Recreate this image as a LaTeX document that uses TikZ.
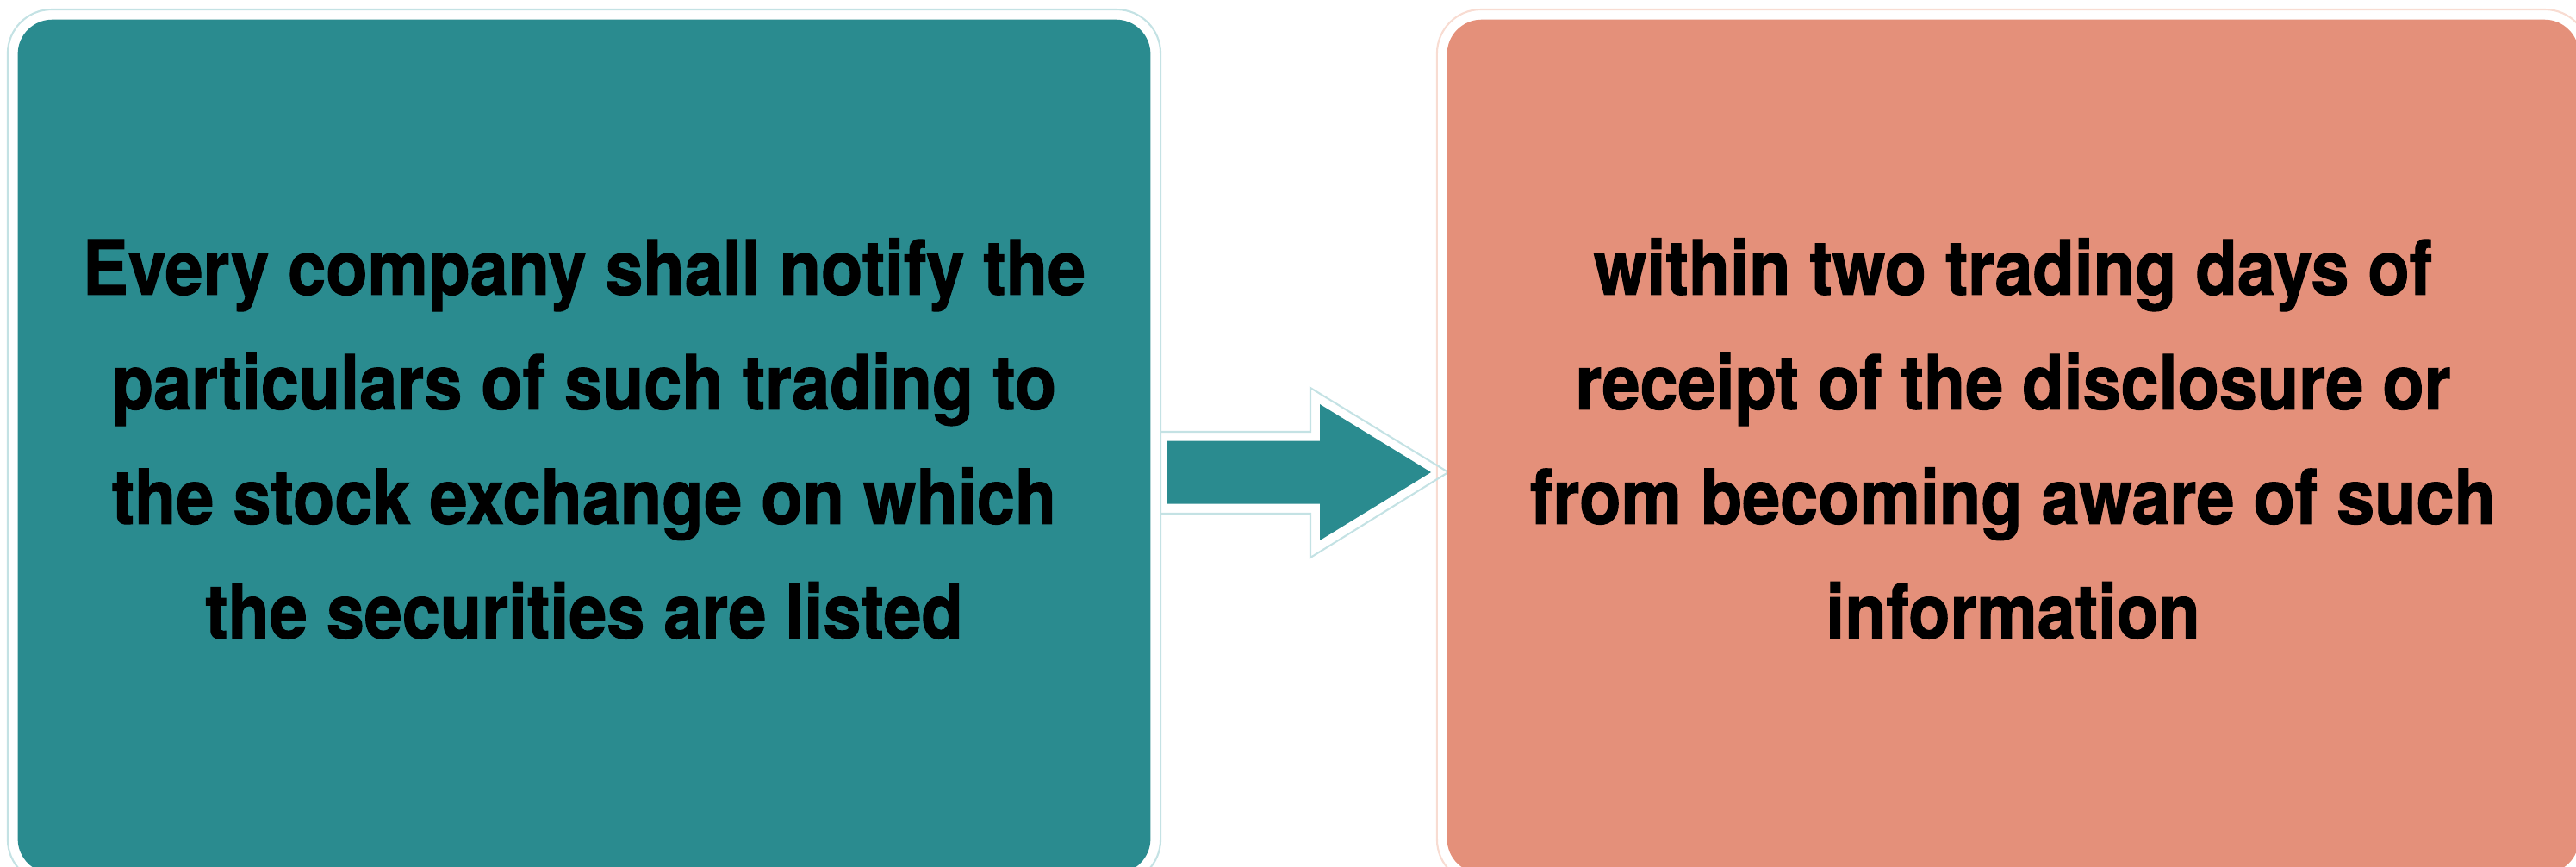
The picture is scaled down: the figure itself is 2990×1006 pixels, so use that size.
\documentclass[tikz,border=0pt]{standalone}
\usepackage{fontspec}
\setmainfont{TeX Gyre Heros}[FakeStretch=0.9,FakeBold=1.2]
\usetikzlibrary{backgrounds}
\definecolor{tealbox}{RGB}{42,139,143}
\definecolor{salmonbox}{RGB}{228,144,122}
\definecolor{tealring}{RGB}{196,226,228}
\definecolor{salmonring}{RGB}{248,220,210}
\tikzset{
  box/.style={rounded corners=0.4cm, minimum height=9.9cm, inner sep=0pt},
  boxtext/.style={align=center, text=black, inner sep=0pt,
    font=\bfseries\fontsize{25}{37.8}\selectfont},
  ring/.style={rounded corners=0.51cm, line width=0.6pt}
}
\begin{document}
\begin{tikzpicture}[x=0.01cm,y=-0.01cm]
  \useasboundingbox (0,0) rectangle (2990,1006);
  \clip (0,0) rectangle (2990,1006);
  \node[box,fill=tealbox,minimum width=13.14cm] (notify) at (678,518) {};
  \node[box,fill=salmonbox,minimum width=13.13cm] (within) at (2336.5,518) {};
  \node[boxtext] (notifytext) at ([yshift=0.09cm]notify.center)
    {Every company shall notify the\\particulars of such trading to\\the stock exchange on which\\the securities are listed};
  \node[boxtext] (withintext) at ([yshift=0.09cm]within.center)
    {within two trading days of\\receipt of the disclosure or\\from becoming aware of such\\information};
  \coordinate (tail) at (1354,548);
  \coordinate (tip) at (1661,548);
  \fill[tealbox] (tail) ++(0,-36.5) -- ++(178,0) -- ++(0,-42.5) -- (tip)
    -- ++(-129,79) -- ++(0,-42.5) -- ++(-178,0) -- cycle;
  \begin{scope}[on background layer]
    \draw[ring,tealring] ([shift={(-11,-11)}]notify.north west) rectangle ([shift={(11,11)}]notify.south east);
    \draw[ring,salmonring] ([shift={(-11,-11)}]within.north west) rectangle ([shift={(11,11)}]within.south east);
    \draw[tealring,line width=0.6pt] (tail) ++(-8,48) -- ++(175,0) -- ++(0,51)
      -- ++(160,-99) -- ++(-160,-98) -- ++(0,51) -- ++(-175,0);
  \end{scope}
\end{tikzpicture}
\end{document}
